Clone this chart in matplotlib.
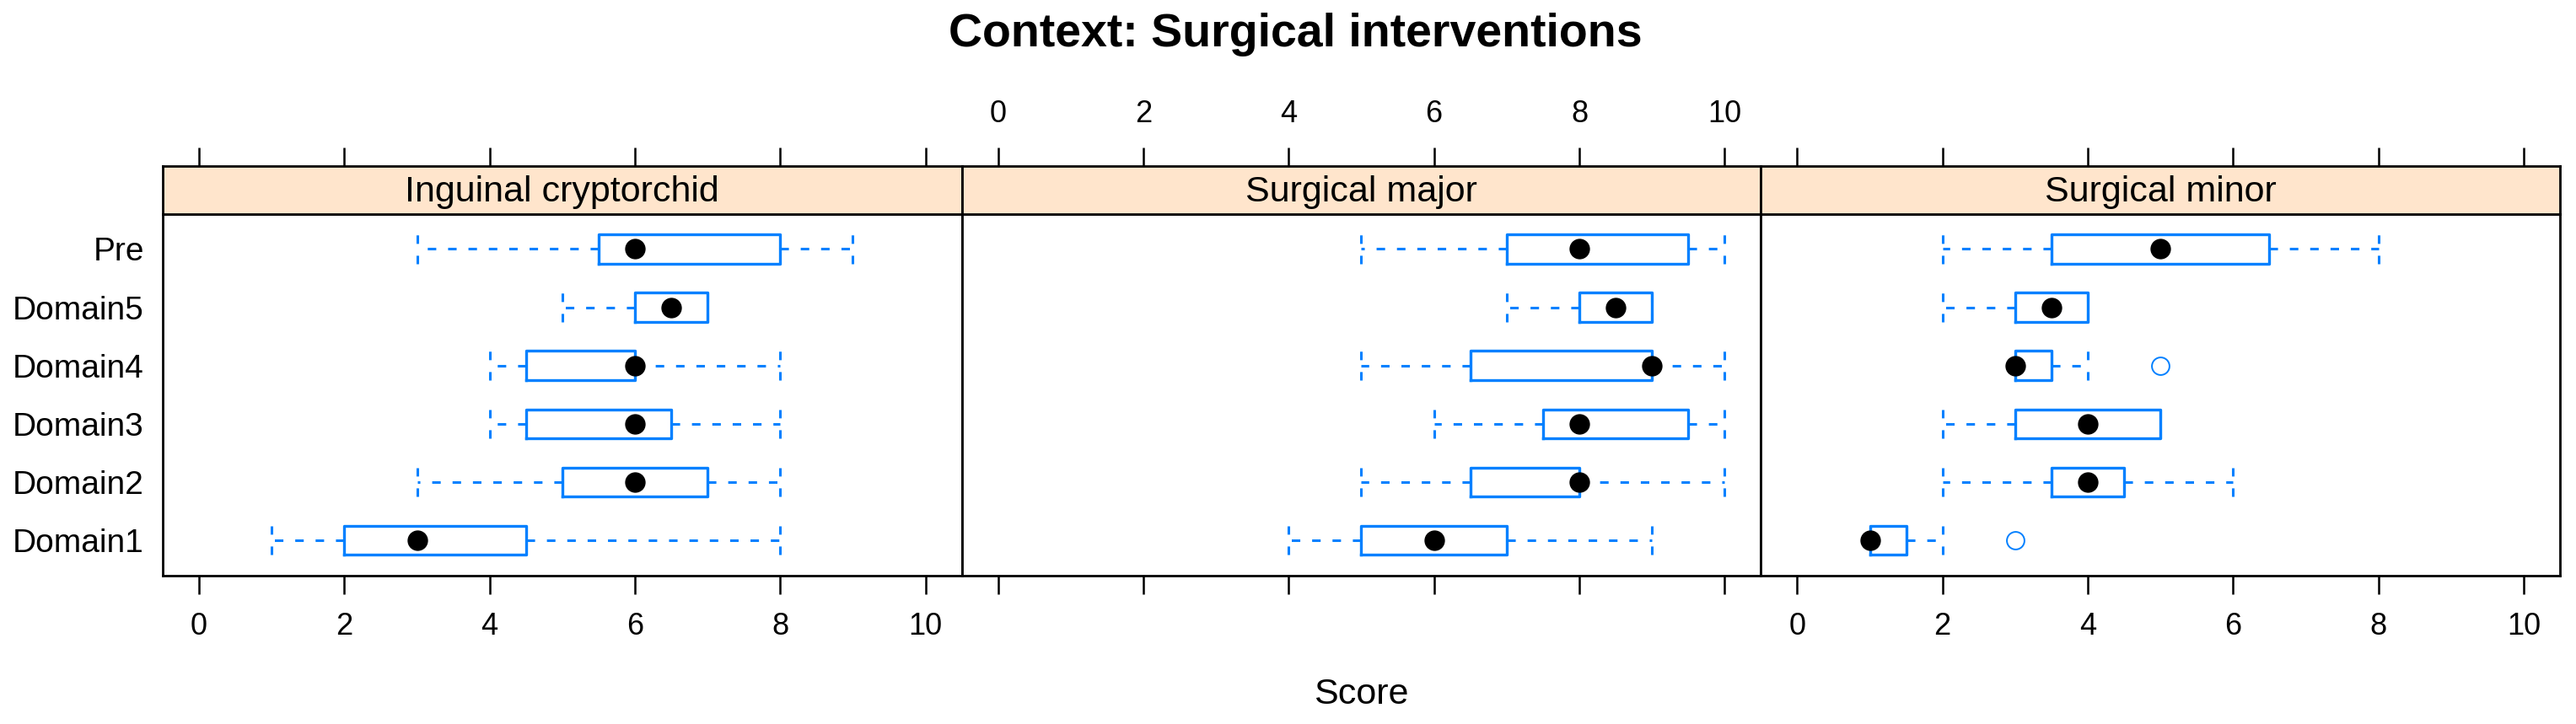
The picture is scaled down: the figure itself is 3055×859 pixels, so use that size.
import numpy as np
import matplotlib
matplotlib.use("Agg")
import matplotlib.pyplot as plt

plt.rcParams['font.family'] = ['Liberation Sans', 'DejaVu Sans']

# rows from bottom to top
rows = ["Domain1", "Domain2", "Domain3", "Domain4", "Domain5", "Pre"]
panels = ["Inguinal cryptorchid", "Surgical major", "Surgical minor"]

# Inguinal cryptorchid
ing_lo = [1, 3, 4, 4, 5, 3]
ing_q1 = [2, 5, 4.5, 4.5, 6, 5.5]
ing_med = [3, 6, 6, 6, 6.5, 6]
ing_q3 = [4.5, 7, 6.5, 6, 7, 8]
ing_hi = [8, 8, 8, 8, 7, 9]
ing_out = [[], [], [], [], [], []]

# Surgical major
maj_lo = [4, 5, 6, 5, 7, 5]
maj_q1 = [5, 6.5, 7.5, 6.5, 8, 7]
maj_med = [6, 8, 8, 9, 8.5, 8]
maj_q3 = [7, 8, 9.5, 9, 9, 9.5]
maj_hi = [9, 10, 10, 10, 9, 10]
maj_out = [[], [], [], [], [], []]

# Surgical minor
min_lo = [1, 2, 2, 3, 2, 2]
min_q1 = [1, 3.5, 3, 3, 3, 3.5]
min_med = [1, 4, 4, 3, 3.5, 5]
min_q3 = [1.5, 4.5, 5, 3.5, 4, 6.5]
min_hi = [2, 6, 5, 4, 4, 8]
min_out = [[3], [], [], [5], [], []]

xticks = [0, 2, 4, 6, 8, 10]

data = [
    (ing_lo, ing_q1, ing_med, ing_q3, ing_hi, ing_out),
    (maj_lo, maj_q1, maj_med, maj_q3, maj_hi, maj_out),
    (min_lo, min_q1, min_med, min_q3, min_hi, min_out),
]

W, H = 3055, 859
fig = plt.figure(figsize=(W / 100, H / 100), dpi=100)

blue = "#0080ff"
dash = (0, (3.3, 4.6))
left_px, right_px = 193, 3036
pw = (right_px - left_px) / 3
panel_top, panel_bot = 254, 682.5
strip_top = 197

for i, (name, (lo, q1, med, q3, hi, out)) in enumerate(zip(panels, data)):
    x0 = (left_px + i * pw) / W
    ax = fig.add_axes([x0, 1 - panel_bot / H, pw / W, (panel_bot - panel_top) / H])
    st = fig.add_axes([x0, 1 - panel_top / H, pw / W, (panel_top - strip_top) / H])

    stats = []
    for k in range(len(rows)):
        stats.append(dict(med=med[k], q1=q1[k], q3=q3[k], whislo=lo[k],
                          whishi=hi[k], fliers=out[k]))
    pos = np.arange(1, len(rows) + 1)
    ax.bxp(stats, positions=pos, widths=0.5, capwidths=0.5,
           orientation='horizontal',
           boxprops=dict(color=blue, lw=2.4),
           whiskerprops=dict(color=blue, lw=2.2, linestyle=dash),
           capprops=dict(color=blue, lw=2.2, linestyle=dash),
           medianprops=dict(lw=0),
           flierprops=dict(marker='o', markerfacecolor='none',
                           markeredgecolor=blue, markersize=15, markeredgewidth=1.4))
    ax.plot(med, pos, 'o', color='black', ms=16.5, zorder=5)

    ax.set_xlim(-0.5, 10.5)
    ax.set_ylim(0.4, 6.6)
    ax.set_xticks(xticks)
    ax.tick_params(axis='x', length=16, width=1.8, pad=15, labelsize=26)
    if i == 1:
        ax.tick_params(axis='x', labelbottom=False)
    if i == 0:
        ax.set_yticks(pos)
        ax.set_yticklabels(rows)
        ax.tick_params(axis='y', length=0, pad=16, labelsize=28)
    else:
        ax.set_yticks([])
    for s in ax.spines.values():
        s.set_linewidth(2)

    st.set_facecolor("#ffe5cc")
    st.set_xlim(-0.5, 10.5)
    st.set_ylim(0, 1)
    st.set_yticks([])
    st.set_xticks(xticks)
    st.xaxis.tick_top()
    st.tick_params(axis='x', length=16, width=1.8, pad=16, labelsize=26,
                   labeltop=(i == 1))
    for s in st.spines.values():
        s.set_linewidth(2)
    st.text(0.5, 0.45, name, transform=st.transAxes, ha='center', va='center',
            fontsize=31)

fig.text(0.503, 1 - 55 / H, "Context: Surgical interventions", ha='center',
         va='baseline', fontsize=40, fontweight='bold')
fig.text((left_px + right_px) / 2 / W, 1 - 835 / H, "Score", ha='center',
         va='baseline', fontsize=31)

fig.savefig("out.png", dpi=100)
